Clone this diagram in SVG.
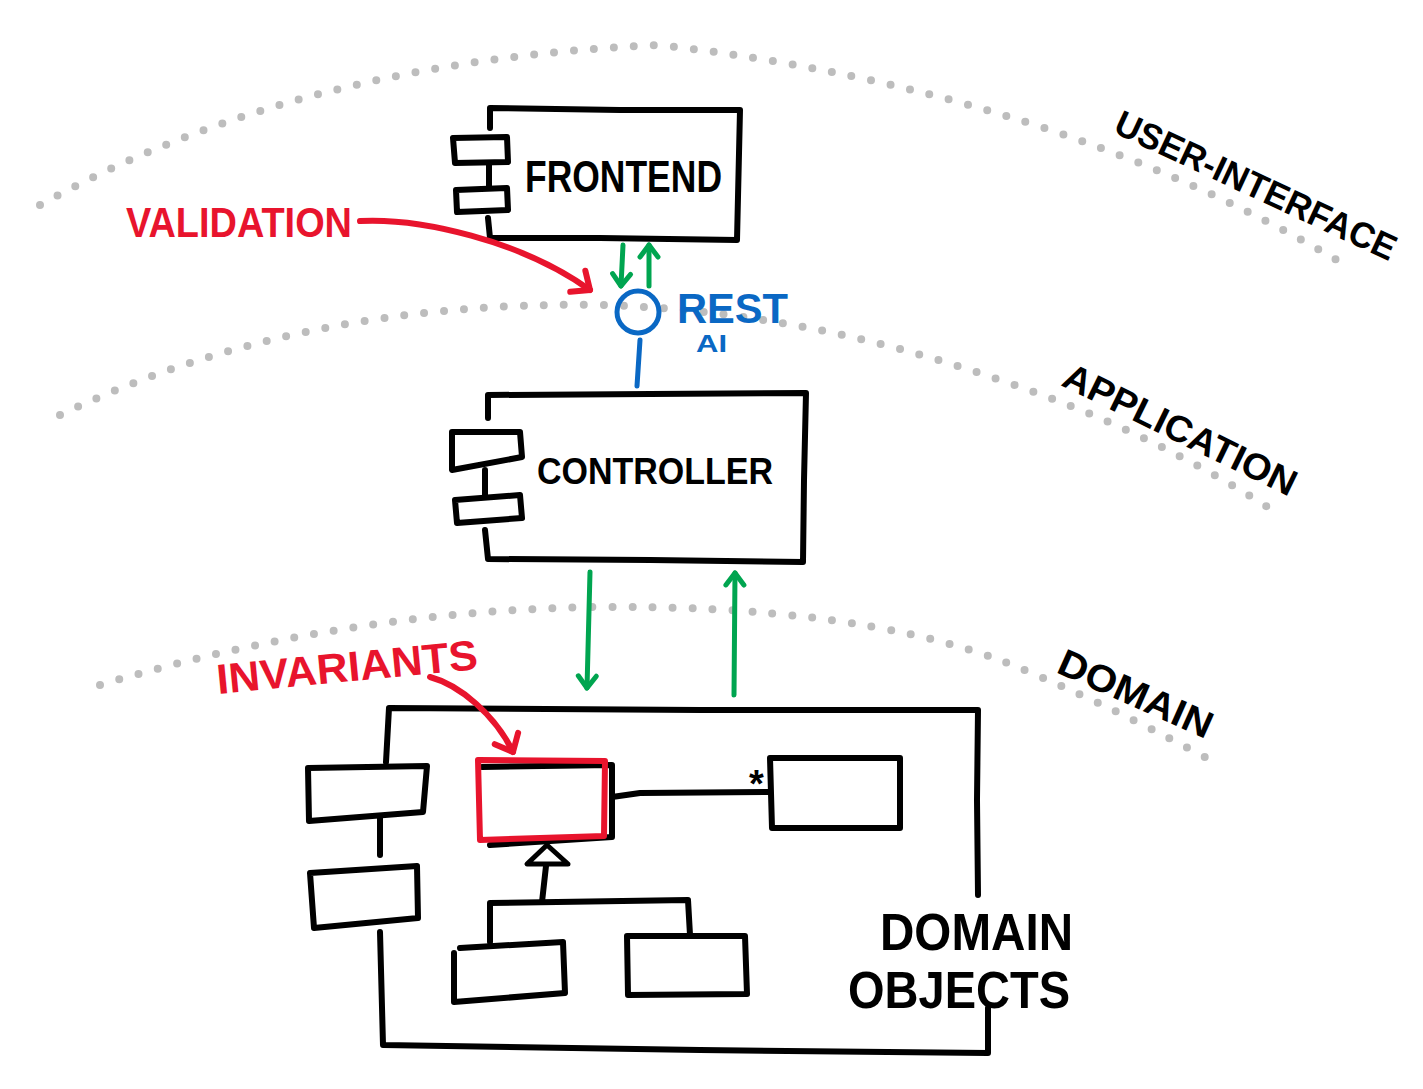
<svg xmlns="http://www.w3.org/2000/svg" width="1423" height="1089" viewBox="0 0 1423 1089">
<defs>
<style>
.ink{fill:none;stroke:#000;stroke-width:6;stroke-linecap:round;stroke-linejoin:round}
.red{fill:none;stroke:#e8142d;stroke-width:6;stroke-linecap:round;stroke-linejoin:round}
.grn{fill:none;stroke:#00a550;stroke-width:5;stroke-linecap:round;stroke-linejoin:round}
.blu{fill:none;stroke:#0a68c4;stroke-width:5;stroke-linecap:round;stroke-linejoin:round}
.dots{fill:none;stroke:#bdbdbd;stroke-width:8;stroke-linecap:round;stroke-dasharray:0 20}
.t{font-family:"Liberation Sans",Arial,sans-serif;font-weight:bold}
.tk{fill:#000}
.tr{fill:#e8142d}
.tb{fill:#0a68c4}
</style>
<marker id="ag" viewBox="-16 -16 32 32" markerWidth="32" markerHeight="32" refX="0" refY="0" orient="auto" markerUnits="userSpaceOnUse">
<path d="M-12,-9 L0,0 L-12,9" fill="none" stroke="#00a550" stroke-width="5" stroke-linecap="round" stroke-linejoin="round"/>
</marker>
<marker id="ar" viewBox="-20 -20 40 40" markerWidth="40" markerHeight="40" refX="0" refY="0" orient="auto" markerUnits="userSpaceOnUse">
<path d="M-15,-13 L0,0 L-15,13" fill="none" stroke="#e8142d" stroke-width="6" stroke-linecap="round" stroke-linejoin="round"/>
</marker>
</defs>
<rect width="1423" height="1089" fill="#fff"/>

<g id="layers">
<path class="dots" d="M40,205 Q300,60 660,45 Q1050,90 1340,262"/>
<path class="dots" d="M60,415 Q300,300 600,305 Q800,310 1000,380 Q1150,430 1280,515"/>
<path class="dots" d="M100,685 Q350,610 600,607 Q850,605 1000,660 Q1100,700 1210,760"/>
</g>

<g id="layer-labels">
<text class="t tk" font-size="36" textLength="306" lengthAdjust="spacingAndGlyphs" transform="translate(1112,132) rotate(25)">USER-INTERFACE</text>
<text class="t tk" font-size="37" textLength="255" lengthAdjust="spacingAndGlyphs" transform="translate(1060,385) rotate(26)">APPLICATION</text>
<text class="t tk" font-size="38" textLength="165" lengthAdjust="spacingAndGlyphs" transform="translate(1055,672) rotate(24)">DOMAIN</text>
</g>

<g id="frontend">
<path class="ink" d="M490,128 L490,108 L620,110 L740,110 L737,240 L600,238 L490,238 L488,218"/>
<path class="ink" d="M453,138 L507,137 L508,162 L455,163 Z"/>
<path class="ink" d="M489,163 L489,188"/>
<path class="ink" d="M456,190 L507,188 L508,210 L457,212 Z"/>
<text class="t tk" x="525" y="192" font-size="44" textLength="197" lengthAdjust="spacingAndGlyphs">FRONTEND</text>
</g>

<g id="rest-api">
<circle class="blu" cx="638" cy="312" r="21"/>
<text class="t tb" x="677" y="323" font-size="42" textLength="111" lengthAdjust="spacingAndGlyphs">REST</text>
<text class="t tb" x="696" y="352" font-size="24" textLength="31" lengthAdjust="spacingAndGlyphs">AI</text>
</g>

<g id="controller">
<path class="ink" d="M488,418 L488,395 L650,394 L806,393 L804,480 L803,562 L650,560 L488,559 L485,530"/>
<path class="ink" d="M452,432 L520,432 L522,457 L452,470 Z"/>
<path class="ink" d="M485,470 L485,495"/>
<path class="ink" d="M455,500 L520,495 L522,518 L457,523 Z"/>
<text class="t tk" x="537" y="484" font-size="36" textLength="236" lengthAdjust="spacingAndGlyphs">CONTROLLER</text>
</g>

<g id="domain-objects">
<path class="ink" d="M386,762 L389,708 L700,710 L978,710 L977,800 L978,895"/>
<path class="ink" d="M988,1008 L988,1053 L700,1050 L383,1045 L380,932"/>
<path class="ink" d="M308,768 L427,766 L423,812 L309,821 Z"/>
<path class="ink" d="M380,818 L380,855"/>
<path class="ink" d="M310,873 L417,866 L418,918 L314,928 Z"/>
<text class="t tk" x="880" y="950" font-size="52" textLength="193" lengthAdjust="spacingAndGlyphs">DOMAIN</text>
<text class="t tk" x="848" y="1008" font-size="52" textLength="222" lengthAdjust="spacingAndGlyphs">OBJECTS</text>
</g>

<g id="entity">
<path class="ink" d="M482,767 L612,765 L612,837 L490,845"/>
<path class="red" d="M478,760 L605,761 L604,836 L480,840 Z"/>
</g>

<g id="entity-right">
<path class="ink" d="M770,758 L900,758 L900,828 L772,828 Z"/>
</g>

<g id="subclass-left">
<path class="ink" d="M460,948 L563,942 L565,993 L454,1002 L454,953"/>
</g>

<g id="subclass-right">
<path class="ink" d="M627,936 L745,936 L747,994 L628,995 Z"/>
</g>

<g id="labels">
<text class="t tr" x="126" y="237" font-size="43" textLength="226" lengthAdjust="spacingAndGlyphs">VALIDATION</text>
<text class="t tr" font-size="42" textLength="262" lengthAdjust="spacingAndGlyphs" transform="translate(218,694) rotate(-5.5)">INVARIANTS</text>
</g>

<g id="connectors">
<path class="grn" d="M623,245 L621,286" marker-end="url(#ag)"/>
<path class="grn" d="M649,286 L649,245" marker-end="url(#ag)"/>
<path class="blu" d="M640,340 L637,386"/>
<path class="grn" d="M590,572 L587,688" marker-end="url(#ag)"/>
<path class="grn" d="M734,695 L735,573" marker-end="url(#ag)"/>
<path class="red" d="M360,221 C420,218 520,240 590,290" marker-end="url(#ar)"/>
<path class="red" d="M430,677 C460,685 495,715 513,752" marker-end="url(#ar)"/>
<path class="ink" d="M612,797 L640,793 L770,792"/>
<text class="t tk" x="749" y="797" font-size="38">*</text>
<path class="ink" d="M546,866 L542,902"/>
<path d="M547,845 L527,864 L568,864 Z" fill="#fff" stroke="#000" stroke-width="5" stroke-linejoin="round"/>
<path class="ink" d="M490,942 L490,903 L688,900 L690,935"/>
</g>
</svg>
